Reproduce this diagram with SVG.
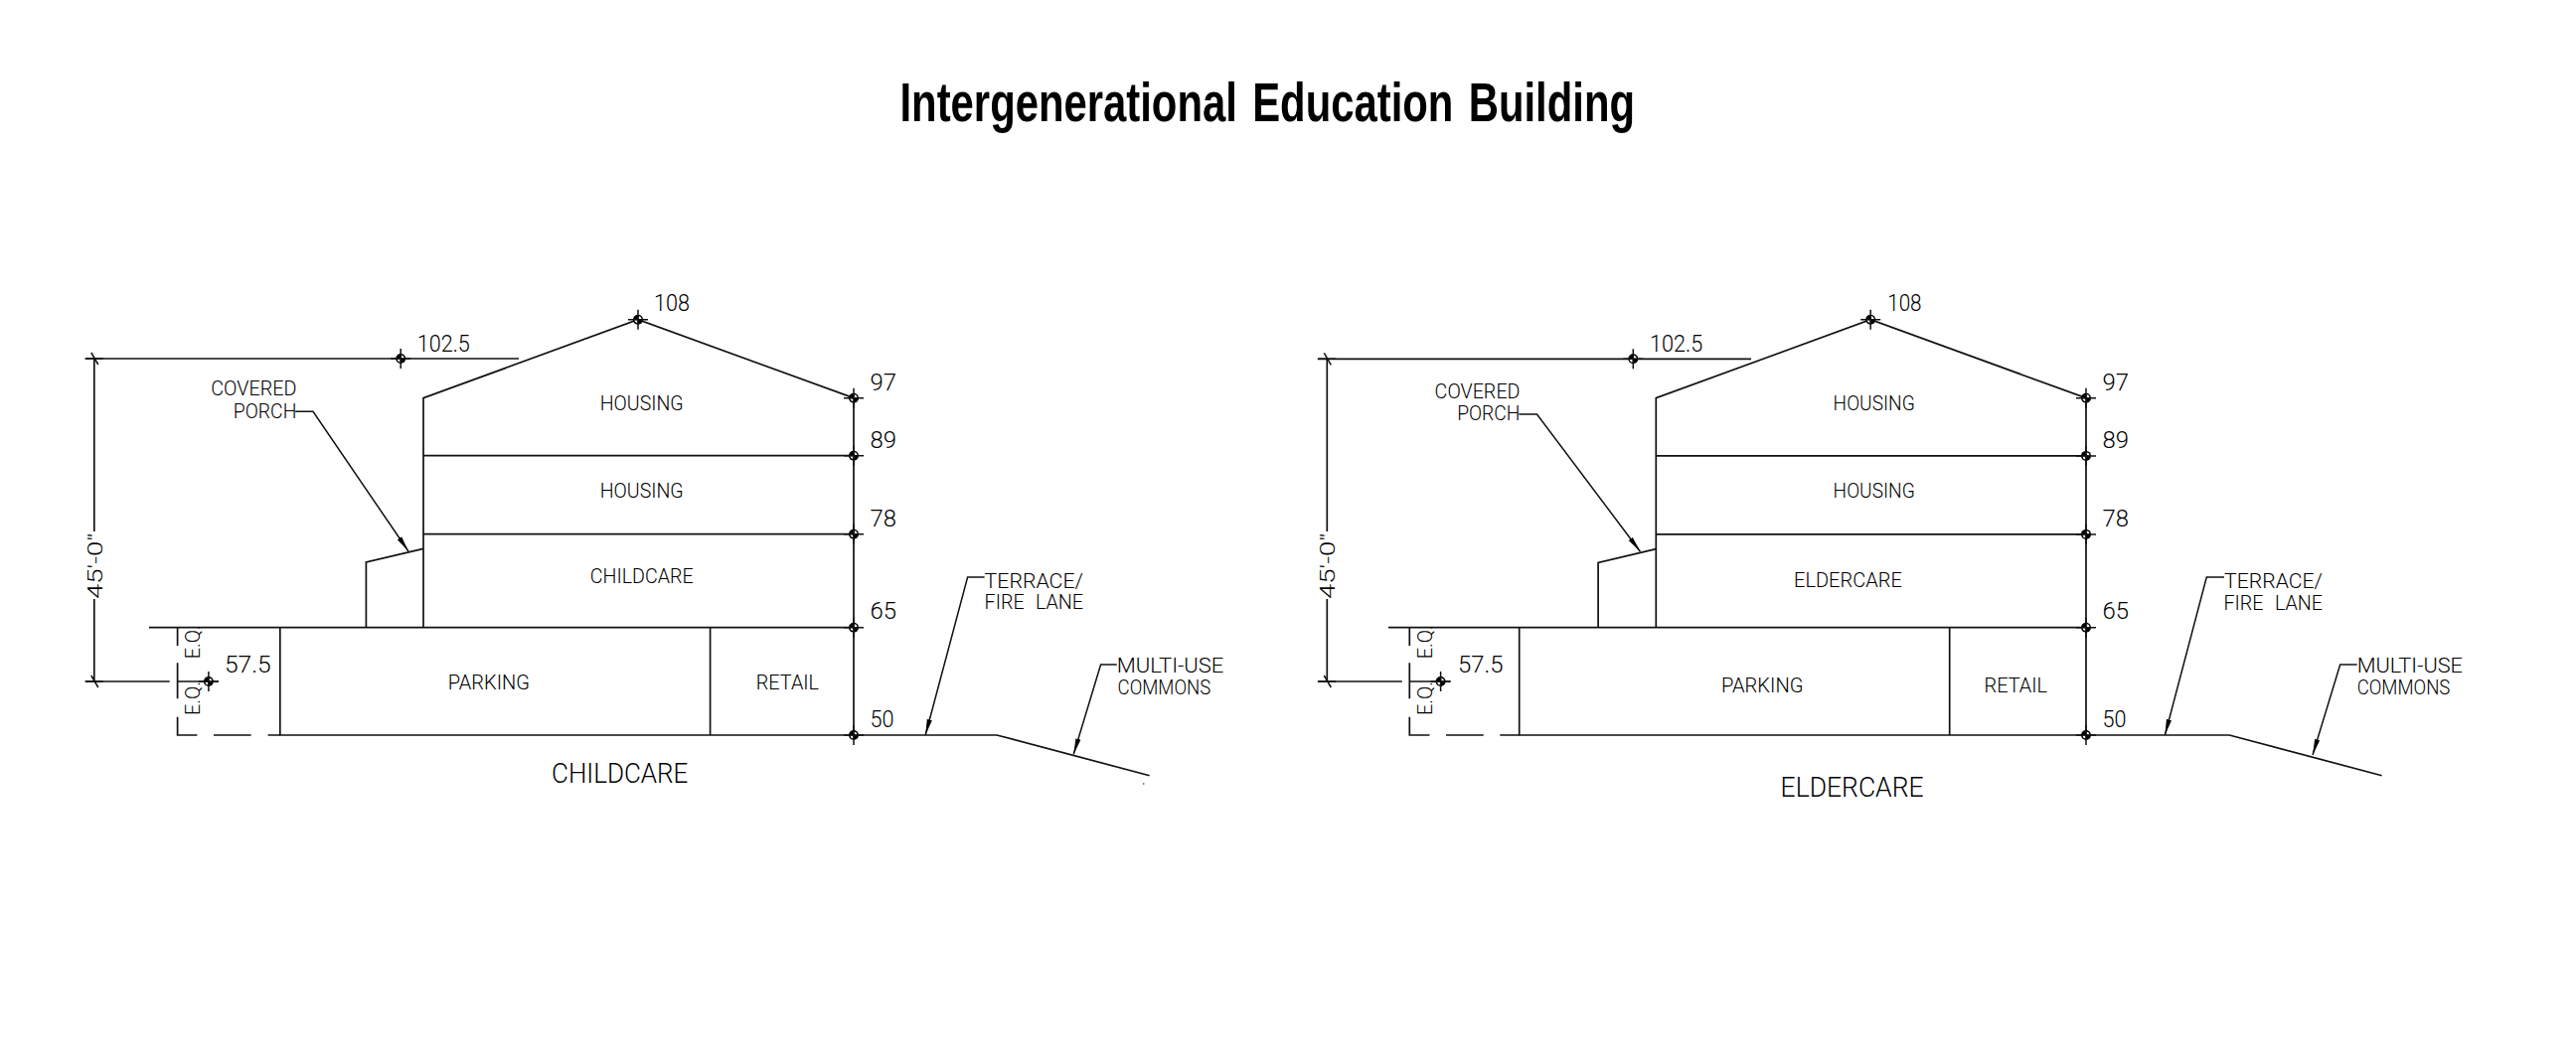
<svg xmlns="http://www.w3.org/2000/svg" width="2592" height="1058" viewBox="0 0 2592 1058">
<style>
.l{fill:none;stroke:#111;stroke-width:1.7;stroke-linecap:butt;stroke-linejoin:miter}
.t{stroke:#111;stroke-width:1.5;fill:none}
text{font-family:"Roboto","Liberation Sans",sans-serif;font-weight:300;fill:#000;font-size:21px}
.n{font-size:23px}
.c{font-size:27px}
.w{word-spacing:7px}
.title{font-family:"Liberation Sans",Arial,sans-serif;font-weight:700;font-size:56px;fill:#000;word-spacing:5px}
.a{fill:none;stroke:#111;stroke-width:1.5;marker-end:url(#arrow)}
</style>
<defs>
<marker id="arrow" markerUnits="userSpaceOnUse" markerWidth="18" markerHeight="8" refX="16" refY="4" orient="auto">
<path d="M0,1.4L16,4L0,6.6Z" fill="#000"/>
</marker>
<g id="datum">
<circle r="5" fill="#000"/>
<path d="M0.6,-0.6V-3.6A3.6,3.6 0 0 1 3.6,-0.6ZM-0.6,0.6V3.6A3.6,3.6 0 0 1 -3.6,0.6Z" fill="#fff"/>
<path d="M-10,0H10M0,-10V10" class="t"/>
</g>
<path id="tick" d="M-9,0H9M-3,-6L4,6" class="t"/>
</defs>
<text class="title" x="905.5" y="121.5" textLength="739.5" lengthAdjust="spacingAndGlyphs">Intergenerational Education Building</text>

<g id="childcare-section">
<g id="childcare-building">
<path class="l" d="M426,631.7V400.7L642,321.7L859,400.7V740"/>
<path class="l" d="M426,458.7H859M426,537.7H859"/>
<path class="l" d="M426,552.3L368.4,566V631.7"/>
<path class="l" d="M150,631.7H859"/>
<path class="l" d="M281.8,631.7V740H1003L1156.6,780.7"/>
<path class="l" d="M714.6,631.7V740"/>
</g>
<g id="childcare-dimensions">
<path class="l" d="M85.7,361H522"/>
<path class="l" d="M94.8,361V535M94.8,603V686"/>
<path class="l" d="M85.7,686H170.7M178.6,686H220"/>
<path class="l" d="M178.6,631.7V650M178.6,667.3V703.3M178.6,721.7V740H198.4M215,740H252.6M269.6,740H281.8"/>
<use href="#tick" x="94.8" y="361"/>
<use href="#tick" x="94.8" y="686"/>
<use href="#datum" x="403.2" y="361"/>
<use href="#datum" x="209.9" y="686"/>
<use href="#datum" x="642" y="321.7"/>
<use href="#datum" x="859" y="400.7"/>
<use href="#datum" x="859" y="458.7"/>
<use href="#datum" x="859" y="537.7"/>
<use href="#datum" x="859" y="631.7"/>
<use href="#datum" x="859" y="740"/>
</g>
<g id="childcare-leaders">
<path class="a" d="M297.2,414.3H315L411,555"/>
<path class="a" d="M990.6,581H973.6L931.2,740"/>
<path class="a" d="M1123.8,669H1107.6L1080.3,759.3"/>
<path d="M1150.3,789h1" class="t"/>
</g>
<g id="childcare-labels">
<text class="n" x="419.8" y="353.5" textLength="53" lengthAdjust="spacingAndGlyphs">102.5</text>
<text class="n" x="658" y="313" textLength="36" lengthAdjust="spacingAndGlyphs">108</text>
<text class="n" x="875.5" y="392.7" textLength="26.5" lengthAdjust="spacingAndGlyphs">97</text>
<text class="n" x="875.5" y="450.7" textLength="26.5" lengthAdjust="spacingAndGlyphs">89</text>
<text class="n" x="875.5" y="530" textLength="26.5" lengthAdjust="spacingAndGlyphs">78</text>
<text class="n" x="875.5" y="623.3" textLength="26.5" lengthAdjust="spacingAndGlyphs">65</text>
<text class="n" x="875.5" y="731.7" textLength="24" lengthAdjust="spacingAndGlyphs">50</text>
<text class="n" x="226" y="677.3" textLength="46.7" lengthAdjust="spacingAndGlyphs">57.5</text>
<text x="212.2" y="398.3" textLength="86.2" lengthAdjust="spacingAndGlyphs">COVERED</text>
<text x="234.8" y="421" textLength="63.6" lengthAdjust="spacingAndGlyphs">PORCH</text>
<text x="603.7" y="413.3" textLength="84" lengthAdjust="spacingAndGlyphs">HOUSING</text>
<text x="603.7" y="500.7" textLength="84" lengthAdjust="spacingAndGlyphs">HOUSING</text>
<text x="593.8" y="586.7" textLength="103.8" lengthAdjust="spacingAndGlyphs">CHILDCARE</text>
<text x="450.7" y="694.3" textLength="82.3" lengthAdjust="spacingAndGlyphs">PARKING</text>
<text x="760.8" y="694.3" textLength="63.2" lengthAdjust="spacingAndGlyphs">RETAIL</text>
<text class="c" x="555" y="788.3" textLength="137.4" lengthAdjust="spacingAndGlyphs">CHILDCARE</text>
<text x="990.6" y="591.7" textLength="99.4" lengthAdjust="spacingAndGlyphs">TERRACE/</text>
<text class="w" x="990.6" y="613.3" textLength="99.4" lengthAdjust="spacingAndGlyphs">FIRE LANE</text>
<text x="1123.8" y="676.7" textLength="107.6" lengthAdjust="spacingAndGlyphs">MULTI-USE</text>
<text x="1124.6" y="699" textLength="93.7" lengthAdjust="spacingAndGlyphs">COMMONS</text>
<text transform="translate(102.7,603) rotate(-90)" textLength="66.3" lengthAdjust="spacingAndGlyphs">45'-0"</text>
<text transform="translate(201.3,663.3) rotate(-90)" textLength="34" lengthAdjust="spacingAndGlyphs">E.Q.</text>
<text transform="translate(201.3,720) rotate(-90)" textLength="34" lengthAdjust="spacingAndGlyphs">E.Q.</text>
</g>
</g>

<g id="eldercare-section">
<g id="eldercare-building">
<path class="l" d="M1666.3,631.7V400.7L1882.2,321.7L2099,400.7V740"/>
<path class="l" d="M1666.3,458.9H2099M1666.3,537.9H2099"/>
<path class="l" d="M1666.3,552.6L1608.1,566.3V631.7"/>
<path class="l" d="M1397,631.7H2099"/>
<path class="l" d="M1528.7,631.7V740H2243.2L2396.6,780.7"/>
<path class="l" d="M1961.7,631.7V740"/>
</g>
<g id="eldercare-dimensions">
<path class="l" d="M1325.8,361.3H1762"/>
<path class="l" d="M1335.3,361.3V535M1335.3,603V686"/>
<path class="l" d="M1325.8,686H1410.8M1418.3,686H1459.5"/>
<path class="l" d="M1418.3,631.7V650M1418.3,667.3V703.3M1418.3,721.7V740H1438.5M1455,740H1492.7M1509.3,740H1528.7"/>
<use href="#tick" x="1335.3" y="361.3"/>
<use href="#tick" x="1335.3" y="686"/>
<use href="#datum" x="1643.3" y="361.3"/>
<use href="#datum" x="1449.6" y="686"/>
<use href="#datum" x="1882.2" y="321.7"/>
<use href="#datum" x="2099" y="400.7"/>
<use href="#datum" x="2099" y="458.9"/>
<use href="#datum" x="2099" y="537.9"/>
<use href="#datum" x="2099" y="631.7"/>
<use href="#datum" x="2099" y="740"/>
</g>
<g id="eldercare-leaders">
<path class="a" d="M1528.3,417H1546.5L1650.4,555.3"/>
<path class="a" d="M2238,581H2220.3L2178.4,740"/>
<path class="a" d="M2371.7,669H2354.7L2327,760"/>
</g>
<g id="eldercare-labels">
<text class="n" x="1660" y="353.5" textLength="53.3" lengthAdjust="spacingAndGlyphs">102.5</text>
<text class="n" x="1899.2" y="313" textLength="34.4" lengthAdjust="spacingAndGlyphs">108</text>
<text class="n" x="2115.5" y="392.7" textLength="26.5" lengthAdjust="spacingAndGlyphs">97</text>
<text class="n" x="2115.5" y="450.7" textLength="26.5" lengthAdjust="spacingAndGlyphs">89</text>
<text class="n" x="2115.5" y="530" textLength="26.5" lengthAdjust="spacingAndGlyphs">78</text>
<text class="n" x="2115.5" y="623.3" textLength="26.5" lengthAdjust="spacingAndGlyphs">65</text>
<text class="n" x="2115.5" y="731.7" textLength="24" lengthAdjust="spacingAndGlyphs">50</text>
<text class="n" x="1467" y="677.3" textLength="45.5" lengthAdjust="spacingAndGlyphs">57.5</text>
<text x="1443.6" y="401" textLength="85.9" lengthAdjust="spacingAndGlyphs">COVERED</text>
<text x="1466.2" y="423.3" textLength="63.3" lengthAdjust="spacingAndGlyphs">PORCH</text>
<text x="1844.6" y="413.3" textLength="82.2" lengthAdjust="spacingAndGlyphs">HOUSING</text>
<text x="1844.6" y="500.7" textLength="82.2" lengthAdjust="spacingAndGlyphs">HOUSING</text>
<text x="1805" y="591" textLength="108.8" lengthAdjust="spacingAndGlyphs">ELDERCARE</text>
<text x="1731.9" y="696.7" textLength="82.6" lengthAdjust="spacingAndGlyphs">PARKING</text>
<text x="1996.5" y="697.3" textLength="63.5" lengthAdjust="spacingAndGlyphs">RETAIL</text>
<text class="c" x="1791.6" y="801.7" textLength="144" lengthAdjust="spacingAndGlyphs">ELDERCARE</text>
<text x="2238" y="592" textLength="99" lengthAdjust="spacingAndGlyphs">TERRACE/</text>
<text class="w" x="2237.5" y="613.7" textLength="99.5" lengthAdjust="spacingAndGlyphs">FIRE LANE</text>
<text x="2371.7" y="677" textLength="106.3" lengthAdjust="spacingAndGlyphs">MULTI-USE</text>
<text x="2371.7" y="699" textLength="93.7" lengthAdjust="spacingAndGlyphs">COMMONS</text>
<text transform="translate(1342.9,603) rotate(-90)" textLength="66.3" lengthAdjust="spacingAndGlyphs">45'-0"</text>
<text transform="translate(1441,663.3) rotate(-90)" textLength="34" lengthAdjust="spacingAndGlyphs">E.Q.</text>
<text transform="translate(1441,720) rotate(-90)" textLength="34" lengthAdjust="spacingAndGlyphs">E.Q.</text>
</g>
</g>
</svg>
